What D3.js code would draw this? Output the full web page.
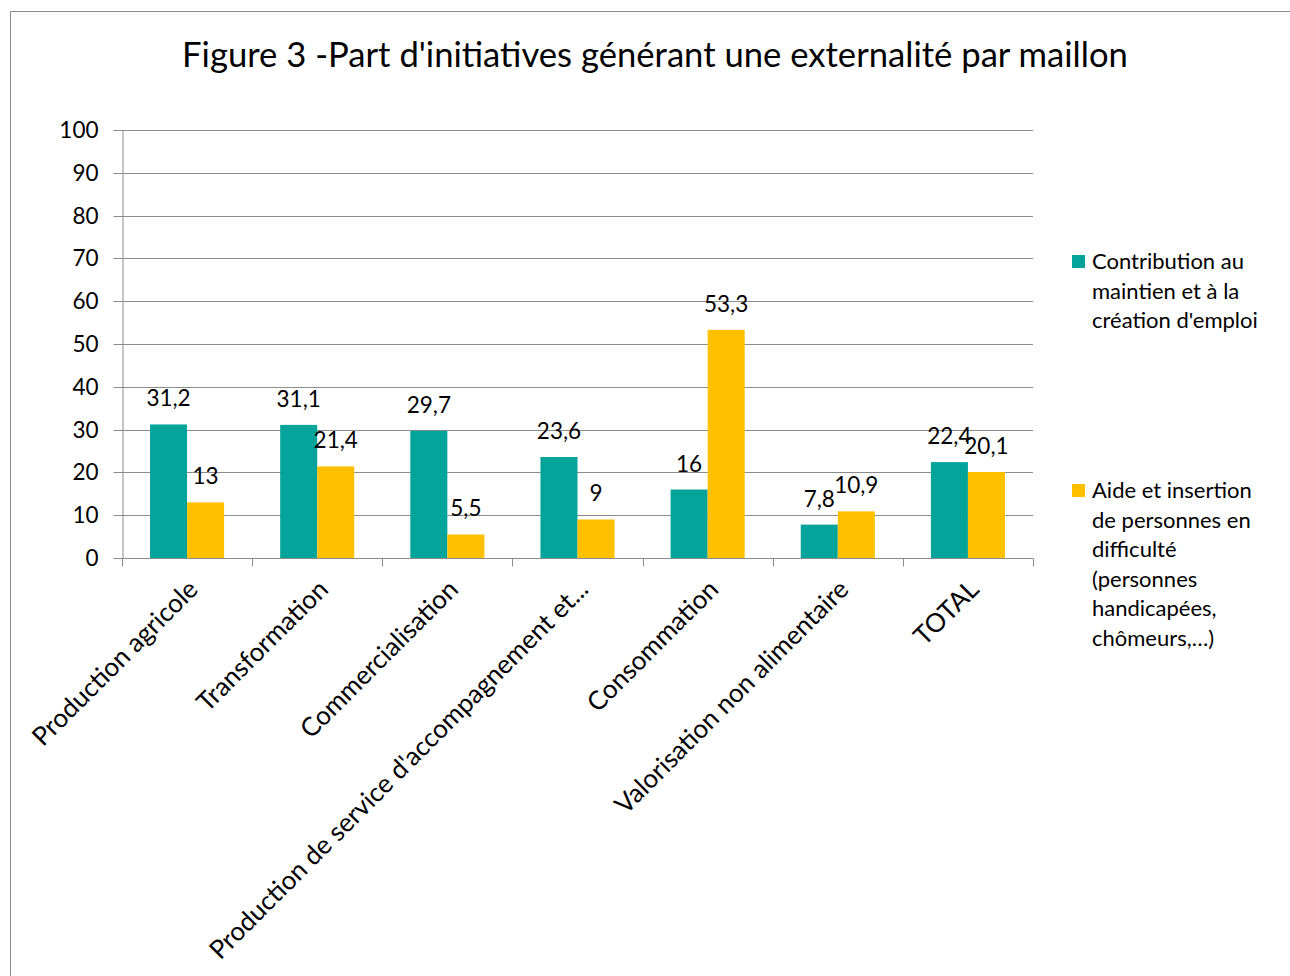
<!DOCTYPE html>
<html><head><meta charset="utf-8">
<script src="https://cdn.jsdelivr.net/npm/d3@7"></script>
<style>body{margin:0;background:#fff}svg{display:block}text{font-family:Lato,"Open Sans",sans-serif;fill:#000}</style>
</head><body>
<svg id="c" width="1290" height="976"></svg>
<script>
const titleText = "Figure 3 -Part d'initiatives générant une externalité par maillon";
const categories = ["Production agricole","Transformation","Commercialisation","Production de service d'accompagnement et...","Consommation","Valorisation non alimentaire","TOTAL"];
const seriesNames = ["Contribution au maintien et à la création d'emploi","Aide et insertion de personnes en difficulté (personnes handicapées, chômeurs,...)"];
const legendLines = [["Contribution au","maintien et à la","création d'emploi"],["Aide et insertion","de personnes en","difficulté","(personnes","handicapées,","chômeurs,…)"]];
const emploi = [31.2, 31.1, 29.7, 23.6, 16, 7.8, 22.4];
const insertion = [13, 21.4, 5.5, 9, 53.3, 10.9, 20.1];
const yTicks = [0,10,20,30,40,50,60,70,80,90,100];
const colors = ["#04A49A", "#FFC000"];

const svg = d3.select("#c");
// frame
svg.append("path").attr("d","M10.5,976 V11.5 H1290").attr("fill","none").attr("stroke","#8a8a8a").attr("stroke-width",1);

const m = {l:122, r:1033, t:130, b:558};
const x = d3.scaleBand().domain(categories).range([m.l, m.r]).paddingInner(0).paddingOuter(0);
const x1 = d3.scaleBand().domain([0,1]).range([0, x.bandwidth()]).paddingOuter(0.757).paddingInner(0);
const y = d3.scaleLinear().domain([0,100]).range([m.b, m.t]);

// title
const t = svg.append("text").attr("x",655).attr("y",67).attr("text-anchor","middle").style("font-size","32px").text(titleText);
const tw = t.node().getComputedTextLength();
t.style("font-size", (32*946/tw).toFixed(2)+"px");

// gridlines
svg.append("g").selectAll("line").data(yTicks.filter(d=>d>0)).join("line")
  .attr("x1",m.l).attr("x2",m.r).attr("y1",d=>Math.round(y(d))+0.5).attr("y2",d=>Math.round(y(d))+0.5)
  .attr("stroke","#8c8c8c").attr("stroke-width",1);

// y axis
const ya = svg.append("g").attr("transform",`translate(${m.l+0.5},0)`).call(d3.axisLeft(y).tickValues(yTicks).tickSize(9).tickPadding(15));
ya.select(".domain").attr("stroke","#8c8c8c");
ya.selectAll(".tick line").attr("stroke","#8c8c8c");
ya.selectAll(".tick text").style("font-size","22.5px").style("font-family","Lato").attr("fill","#000");
ya.selectAll(".tick").attr("transform",d=>`translate(0,${Math.round(y(d))+0.5})`);

// bars
const series = [emploi, insertion];
series.forEach((vals,si)=>{
  svg.append("g").selectAll("rect").data(vals).join("rect")
    .attr("x",(d,i)=>x(categories[i])+x1(si))
    .attr("width",x1.bandwidth())
    .attr("y",d=>y(d)).attr("height",d=>y(0)-y(d))
    .attr("fill",colors[si]);
  svg.append("g").selectAll("text").data(vals).join("text")
    .attr("x",(d,i)=>x(categories[i])+x1(si)+x1.bandwidth()/2)
    .attr("y",d=>y(d)-18)
    .attr("text-anchor","middle").style("font-size","22.5px")
    .text(d=>String(d).replace(".",","));
});

// x axis
const xa = svg.append("g").attr("transform",`translate(0,${m.b+0.5})`);
xa.append("line").attr("x1",m.l).attr("x2",m.r).attr("stroke","#8c8c8c");
const bounds = categories.map(c=>x(c)).concat([m.r]);
xa.selectAll("line.tk").data(bounds).join("line").attr("class","tk")
  .attr("x1",d=>Math.round(d)+0.5).attr("x2",d=>Math.round(d)+0.5).attr("y1",0).attr("y2",8).attr("stroke","#8c8c8c");
xa.selectAll("text").data(categories).join("text")
  .attr("transform",c=>`translate(${x(c)+x.bandwidth()/2+6},${26}) rotate(-45)`)
  .attr("text-anchor","end").attr("dy","0.35em").style("font-size","26px").text(c=>c);

// legend
const lg = svg.append("g");
const legY = [255, 484];
legendLines.forEach((lines,i)=>{
  lg.append("rect").attr("x",1072).attr("y",legY[i]).attr("width",13).attr("height",13).attr("fill",colors[i]);
  const tx = lg.append("text").attr("x",1092).attr("y",legY[i]+14).style("font-size","22px");
  lines.forEach((ln,j)=>tx.append("tspan").attr("x",1092).attr("dy",j?29.6:0).text(ln));
});
</script>
</body></html>
